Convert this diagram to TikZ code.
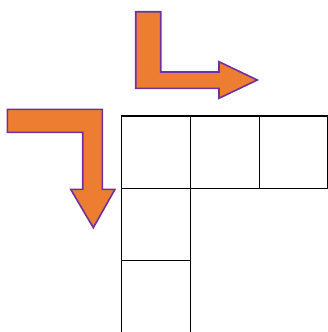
\documentclass[tikz,border=0pt]{standalone}
\begin{document}
\begin{tikzpicture}[x=1pt,y=-1pt,
  arrowshape/.style={fill={rgb,255:red,237;green,125;blue,49},draw={rgb,255:red,112;green,48;blue,160},line width=1.6pt,line join=miter},
  cell/.style={draw=black,line width=1.2pt}]
\useasboundingbox (0,0) rectangle (328,332);
% top L-arrow
\draw[arrowshape] (135.7,11.7) -- (160.7,11.7) -- (160.7,72) -- (219,72) -- (219,61.7) -- (257.3,80) -- (219,98.3) -- (219,88.3) -- (135.7,88.3) -- cycle;
% left arrow
\draw[arrowshape] (7.3,109.3) -- (102.3,109.3) -- (102.3,189.3) -- (115,189.3) -- (93.3,227.7) -- (70.7,189.3) -- (82.7,189.3) -- (82.7,132.3) -- (7.3,132.3) -- cycle;
% grid
\draw[cell] (121.7,116) rectangle (190.3,188.3);
\draw[cell] (190.3,116) rectangle (259.3,188.3);
\draw[cell] (259.3,116) rectangle (327.5,188.3);
\draw[cell] (121.7,188.3) rectangle (190.3,260.3);
\draw[cell] (121.7,260.3) rectangle (190.3,333);
\end{tikzpicture}
\end{document}
